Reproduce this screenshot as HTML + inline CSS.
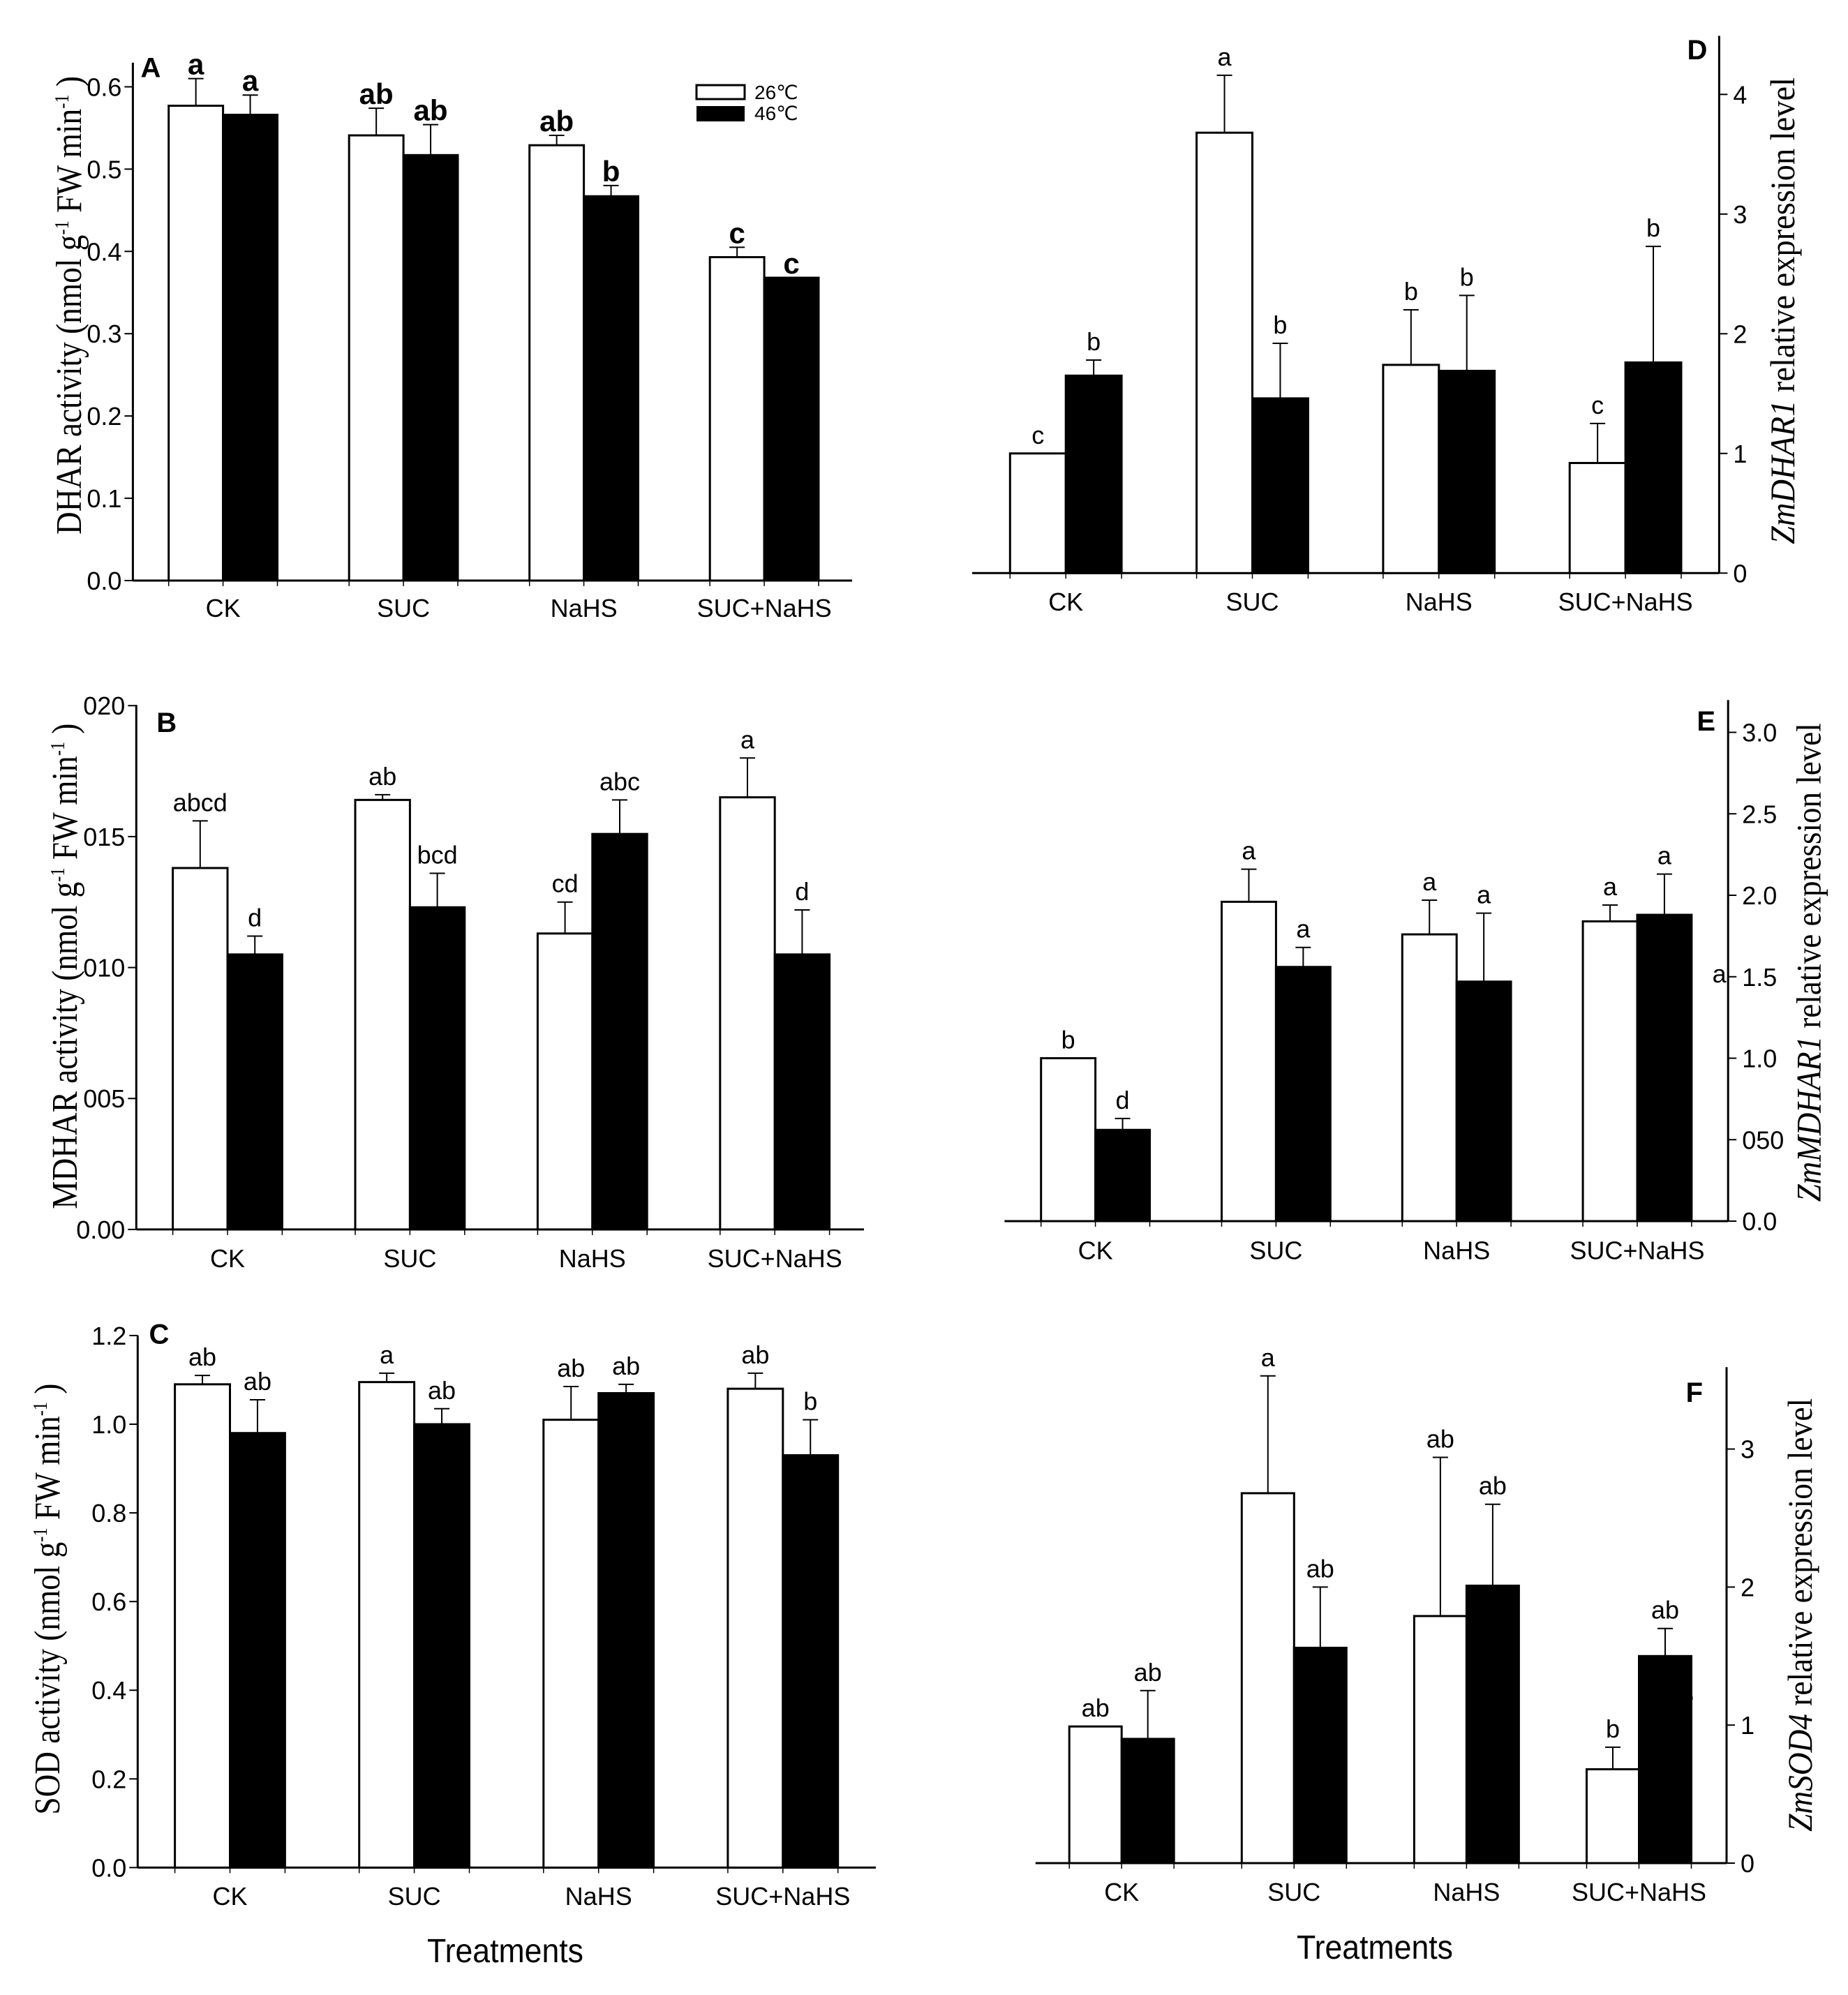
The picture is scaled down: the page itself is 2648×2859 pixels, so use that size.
<!DOCTYPE html>
<html><head><meta charset="utf-8"><style>
html,body{margin:0;padding:0;background:#fff;}
svg{display:block;}
text{font-family:"Liberation Sans",sans-serif;fill:#000;}
.serif{font-family:"Liberation Serif",serif;}
</style></head><body>
<svg id="fig" width="2648" height="2859" viewBox="0 0 2648 2859" xmlns="http://www.w3.org/2000/svg">
<rect x="0" y="0" width="2648" height="2859" fill="#fff"/>
</svg>
<script>
const categories = ["CK","SUC","NaHS","SUC+NaHS"];
// Panel A (DHAR)
const aWhite = [0.577,0.541,0.529,0.393];
const aWhiteErr = [0.610,0.574,0.541,0.405];
const aBlack = [0.566,0.517,0.467,0.368];
const aBlackErr = [0.590,0.554,0.480,0.368];
const aWhiteLet = ["a","ab","ab","c"];
const aBlackLet = ["a","ab","b","c"];
const aTicks = [0,0.1,0.2,0.3,0.4,0.5,0.6];
const aTickLabels = ["0.0","0.1","0.2","0.3","0.4","0.5","0.6"];
// Panel B (MDHAR)
const bWhite = [0.0138,0.0164,0.0113,0.0165];
const bWhiteErr = [0.0156,0.0166,0.0125,0.0180];
const bBlack = [0.0105,0.0123,0.0151,0.0105];
const bBlackErr = [0.0112,0.0136,0.0164,0.0122];
const bWhiteLet = ["abcd","ab","cd","a"];
const bBlackLet = ["d","bcd","abc","d"];
const bTicks = [0,0.005,0.010,0.015,0.020];
const bTickLabels = ["0.00","005","010","015","020"];
// Panel C (SOD)
const cWhite = [1.09,1.095,1.01,1.08];
const cWhiteErr = [1.11,1.115,1.085,1.115];
const cBlack = [0.98,1.0,1.07,0.93];
const cBlackErr = [1.055,1.035,1.09,1.01];
const cWhiteLet = ["ab","a","ab","ab"];
const cBlackLet = ["ab","ab","ab","b"];
const cTicks = [0,0.2,0.4,0.6,0.8,1.0,1.2];
const cTickLabels = ["0.0","0.2","0.4","0.6","0.8","1.0","1.2"];
// Panel D (ZmDHAR1)
const dWhite = [1.0,3.68,1.74,0.92];
const dWhiteErr = [1.0,4.16,2.20,1.25];
const dBlack = [1.65,1.46,1.69,1.76];
const dBlackErr = [1.78,1.92,2.32,2.73];
const dWhiteLet = ["c","a","b","c"];
const dBlackLet = ["b","b","b","b"];
const dTicks = [0,1,2,3,4];
const dTickLabels = ["0","1","2","3","4"];
// Panel E (ZmMDHAR1)
const eWhite = [1.0,1.96,1.76,1.84];
const eWhiteErr = [1.0,2.16,1.97,1.94];
const eBlack = [0.56,1.56,1.47,1.88];
const eBlackErr = [0.63,1.68,1.89,2.13];
const eWhiteLet = ["b","a","a","a"];
const eBlackLet = ["d","a","a","a"];
const eTicks = [0,0.5,1.0,1.5,2.0,2.5,3.0];
const eTickLabels = ["0.0","050","1.0","1.5","2.0","2.5","3.0"];
// Panel F (ZmSOD4)
const fWhite = [0.99,2.68,1.79,0.68];
const fWhiteErr = [0.99,3.53,2.94,0.84];
const fBlack = [0.90,1.56,2.01,1.50];
const fBlackErr = [1.25,2.00,2.60,1.70];
const fWhiteLet = ["ab","a","ab","b"];
const fBlackLet = ["ab","ab","ab","ab"];
const fTicks = [0,1,2,3];
const fTickLabels = ["0","1","2","3"];

const NS="http://www.w3.org/2000/svg";
const svg=document.getElementById('fig');
function mk(tag,attrs,parent){const e=document.createElementNS(NS,tag);for(const k in attrs)e.setAttribute(k,attrs[k]);(parent||svg).appendChild(e);return e;}

function panel(p){
  const g=mk('g',{});
  
  
  const y=v=>p.base-v*p.ppu;
  const yax=mk('line',{x1:p.axisX,y1:p.top,x2:p.axisX,y2:p.base,stroke:'#000','stroke-width':3},g);
  
  
  const x0=p.right?p.xStart:p.axisX, x1=p.right?p.axisX:p.xEnd;
  const xax=mk('line',{x1:x0,y1:p.base,x2:x1,y2:p.base,stroke:'#000','stroke-width':3},g);
  
  
  p.ticks.forEach((t,i)=>{
    const ty=y(t);
    const dx=p.right?12:-12;
    const tl=mk('line',{x1:p.axisX,y1:ty,x2:p.axisX+dx,y2:ty,stroke:'#000','stroke-width':2},g);
    
    
    const tx=mk('text',{x:p.right?p.axisX+20:p.axisX-16,y:ty+13,'font-size':36,'text-anchor':p.right?'start':'end'},g);
    tx.textContent=p.tickLabels[i];
    
    
  });
  categories.forEach((c,i)=>{
    const wx=p.first+i*p.spacing;
    const bx=wx+p.w;
    [wx,bx,bx+p.w].forEach(tx=>{
      const tk=mk('line',{x1:tx,y1:p.base,x2:tx,y2:p.base+8,stroke:'#000','stroke-width':1.5},g);
      
      
    });
    const wy=y(p.white[i]);
    const wr=mk('rect',{x:wx,y:wy,width:p.w,height:p.base-wy,fill:'#fff',stroke:'#000','stroke-width':3},g);
    
    
    const by=y(p.black[i]);
    const br=mk('rect',{x:bx,y:by,width:p.w,height:p.base-by,fill:'#000',stroke:'#000','stroke-width':3},g);
    
    
    [[wx,p.white[i],p.whiteErr[i],p.wl[i]],[bx,p.black[i],p.blackErr[i],p.bl[i]]].forEach(([x,v,e,l])=>{
      const cx=x+p.w/2;
      if(e>v){
        const el=mk('line',{x1:cx,y1:y(v),x2:cx,y2:y(e),stroke:'#000','stroke-width':2},g);
        
        
        const cp=mk('line',{x1:cx-11,y1:y(e),x2:cx+11,y2:y(e),stroke:'#000','stroke-width':2},g);
        
        
      }
      const lt=mk('text',{x:cx,y:y(Math.max(v,e))-p.gap,'font-size':p.letSize,'font-weight':p.letBold?'bold':'normal','text-anchor':'middle'},g);
      lt.textContent=l;
      
      
    });
    const xl=mk('text',{x:bx,y:p.xlabY,'font-size':36,'text-anchor':'middle'},g);
    xl.textContent=c;
    
    
  });
  const pl=mk('text',{x:p.pl[0],y:p.pl[1],'font-size':40,'font-weight':'bold','text-anchor':'middle'},g);
  pl.textContent=p.letter;
  
  
  const tt=mk('text',{class:'serif',x:0,y:0,'font-size':p.tSize,'text-anchor':'middle',textLength:p.tLen,lengthAdjust:'spacingAndGlyphs',transform:`translate(${p.tx},${p.ty}) rotate(-90)`},g);
  tt.innerHTML=p.title;
  
  
}
const sup=s=>`<tspan dy="-18" font-size="28">${s}</tspan><tspan dy="18"> </tspan>`;
panel({name:'panel-a-dhar',letter:'A',pl:[216,110.6],base:832,top:89.9,ppu:1179.3,axisX:190.4,xEnd:1221,first:241.7,spacing:258.5,w:77.9,
  white:aWhite,whiteErr:aWhiteErr,black:aBlack,blackErr:aBlackErr,wl:aWhiteLet,bl:aBlackLet,ticks:aTicks,tickLabels:aTickLabels,
  xlabY:884,gap:6,letSize:42,letBold:true,tx:116,ty:437.5,tSize:52,tLen:657,
  title:`DHAR activity (nmol g${sup('-1')}FW min${sup('-1')})`});
panel({name:'panel-b-mdhar',letter:'B',pl:[238.7,1048.8],base:1761.9,top:1010.2,ppu:37533,axisX:195.3,xEnd:1238,first:247.6,spacing:261.4,w:78.4,
  white:bWhite,whiteErr:bWhiteErr,black:bBlack,blackErr:bBlackErr,wl:bWhiteLet,bl:bBlackLet,ticks:bTicks,tickLabels:bTickLabels,
  xlabY:1816.2,gap:14,letSize:36,letBold:false,tx:110,ty:1384.6,tSize:52,tLen:696,
  title:`MDHAR activity (nmol g${sup('-1')}FW min${sup('-1')})`});
panel({name:'panel-c-sod',letter:'C',pl:[228,1925.7],base:2676.4,top:1913.8,ppu:635.4,axisX:197.3,xEnd:1255,first:250.6,spacing:264.1,w:78.9,
  white:cWhite,whiteErr:cWhiteErr,black:cBlack,blackErr:cBlackErr,wl:cWhiteLet,bl:cBlackLet,ticks:cTicks,tickLabels:cTickLabels,
  xlabY:2729.8,gap:14,letSize:36,letBold:false,tx:85,ty:2291.6,tSize:52,tLen:618,
  title:`SOD activity (nmol g${sup('-1')}FW min${sup('-1')})`});
panel({name:'panel-d-zmdhar1',letter:'D',right:true,pl:[2432,85],base:821.3,top:51.4,ppu:171.5,axisX:2463.4,xStart:1393,first:1447.3,spacing:267.3,w:79.9,
  white:dWhite,whiteErr:dWhiteErr,black:dBlack,blackErr:dBlackErr,wl:dWhiteLet,bl:dBlackLet,ticks:dTicks,tickLabels:dTickLabels,
  xlabY:875,gap:14,letSize:36,letBold:false,tx:2571,ty:445.5,tSize:50,tLen:669,
  title:`<tspan font-style="italic">ZmDHAR1</tspan> relative expression level`});
panel({name:'panel-e-zmmdhar1',letter:'E',right:true,pl:[2444.7,1046.8],base:1750,top:1003.3,ppu:233.5,axisX:2476.2,xStart:1439.4,first:1491.7,spacing:258.8,w:77.9,
  white:eWhite,whiteErr:eWhiteErr,black:eBlack,blackErr:eBlackErr,wl:eWhiteLet,bl:eBlackLet,ticks:eTicks,tickLabels:eTickLabels,
  xlabY:1804.4,gap:14,letSize:36,letBold:false,tx:2608.4,ty:1379.3,tSize:50,tLen:686,
  title:`<tspan font-style="italic">ZmMDHAR1</tspan> relative expression level`});
panel({name:'panel-f-zmsod4',letter:'F',right:true,pl:[2427.9,2008.8],base:2670,top:1959.3,ppu:197.8,axisX:2474,xStart:1483.8,first:1532.2,spacing:247.1,w:75,
  white:fWhite,whiteErr:fWhiteErr,black:fBlack,blackErr:fBlackErr,wl:fWhiteLet,bl:fBlackLet,ticks:fTicks,tickLabels:fTickLabels,
  xlabY:2724,gap:14,letSize:36,letBold:false,tx:2596,ty:2314.4,tSize:50,tLen:621,
  title:`<tspan font-style="italic">ZmSOD4</tspan> relative expression level`});

const ea=mk('text',{x:2463.7,y:1408,'font-size':36,'text-anchor':'middle'});
ea.textContent='a';


const dot=mk('circle',{cx:2416.6,cy:2433.7,r:9,fill:'#000'});



const lg=mk('g',{});


const lw=mk('rect',{x:998,y:122,width:69,height:20,fill:'#fff',stroke:'#000','stroke-width':3},lg);


const lb=mk('rect',{x:998,y:152,width:69,height:22,fill:'#000'},lg);


const l1=mk('text',{x:1081,y:142,'font-size':28,style:'font-family:"Liberation Sans","DejaVu Sans","Noto Sans CJK SC",sans-serif'},lg);
l1.textContent='26℃';


const l2=mk('text',{x:1081,y:172,'font-size':28,style:'font-family:"Liberation Sans","DejaVu Sans","Noto Sans CJK SC",sans-serif'},lg);
l2.textContent='46℃';



const t1=mk('text',{x:724,y:2812,'font-size':48,'text-anchor':'middle',textLength:224,lengthAdjust:'spacingAndGlyphs'});
t1.textContent='Treatments';


const t2=mk('text',{x:1970,y:2807,'font-size':48,'text-anchor':'middle',textLength:224,lengthAdjust:'spacingAndGlyphs'});
t2.textContent='Treatments';


</script>
</body></html>
